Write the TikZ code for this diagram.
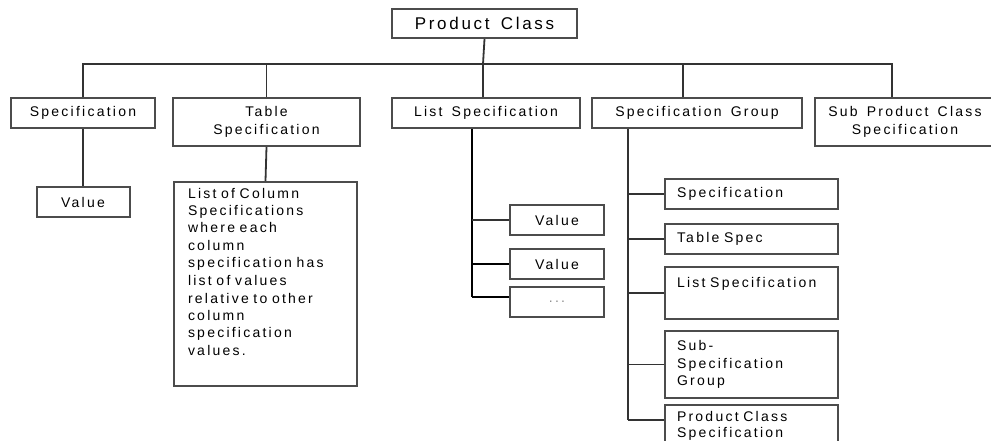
\documentclass[tikz,border=0pt]{standalone}
\usepackage{fontspec}
\setmainfont{Liberation Sans}[LetterSpace=16,WordSpace=1.5]
\usetikzlibrary{positioning}

\begin{document}
\begin{tikzpicture}[x=1pt,y=-1pt,node distance=12pt,
  every edge/.style={draw=black!80,line width=1.8pt},
  heavy/.style={draw=black,line width=2.4pt},
  elbow/.style={to path={|- (\tikztotarget)}},
  box/.style={draw=black!70,line width=2pt,inner sep=0pt,text=black,
    font=\fontsize{14}{17.5}\selectfont},
  top node/.style={box,align=center},
  leaf node/.style={box,align=left,text width=149pt,inner xsep=12pt,
    inner ysep=4pt,minimum height=30pt}]
  \useasboundingbox (0,0) rectangle (991,441);
  \clip (0,0) rectangle (991,441);
  % top level
  \node[top node,minimum width=185pt,minimum height=29pt,
    font=\fontsize{17}{20}\selectfont] (pc) at (484.5,23.5) {Product Class};
  \node[top node,minimum width=144pt,minimum height=30pt] (spec) at (83,113) {Specification};
  \node[top node,minimum width=187pt,minimum height=48pt] (tbl) at (266.5,122) {Table\\Specification};
  \node[top node,minimum width=188pt,minimum height=30pt] (lst) at (486,113) {List Specification};
  \node[top node,minimum width=210pt,minimum height=30pt] (grp) at (697,113) {Specification Group};
  \node[top node,minimum width=180pt,minimum height=48pt] (sub) at (905,122) {Sub Product Class\\Specification};
  \coordinate (bus) at (483,64);
  % children
  \node[top node,minimum width=93pt,minimum height=30pt] (val) [below=57pt of spec] {Value};
  \node[box,align=left,text width=155pt,inner xsep=14pt,inner ysep=4pt,
    text height=12pt,text depth=184pt,anchor=north west] (note) at (173,181)
    {List of Column\\Specifications\\where each\\column\\specification has\\list of values\\relative to other\\column\\specification\\values.};
  \node[top node,minimum width=94pt,minimum height=30pt] (lv1) at (557,220) {Value};
  \node[top node,minimum width=94pt,minimum height=30pt] (lv2) [below=of lv1] {Value};
  \node[top node,minimum width=94pt,minimum height=30pt,text=black!45] (lv3) [below=6pt of lv2] {...};
  \coordinate (lspine) at (472,297);
  \node[leaf node] (g1) at (751.5,194) {Specification};
  \node[leaf node] (g2) [below=13pt of g1] {Table Spec};
  \node[leaf node,text height=16pt,text depth=28pt] (g3) [below=11pt of g2] {List Specification};
  \node[leaf node,minimum height=67pt] (g4) [below=10pt of g3] {Sub-\\Specification\\Group};
  \node[leaf node,text height=12pt,text depth=38pt,
    font=\fontsize{14}{16.5}\selectfont] (g5) [below=5pt of g4] {Product Class\\Specification};
  \coordinate (gspine) at (628,420);
  % connectors
  \path (pc.south) edge (bus)
        (spec.north) edge[elbow] (bus)
        (tbl.north) edge[elbow] (bus)
        (bus) edge (bus |- lst.north)
        ([xshift=-14pt]grp.north) edge[elbow] (bus)
        ([xshift=-13pt]sub.north) edge[elbow] (bus)
        (spec.south) edge (val.north)
        (tbl.south) edge (note.north)
        ([xshift=-14pt]lst.south) edge[heavy] (lspine)
        (lspine |- lv1.west) edge (lv1.west)
        (lspine |- lv2.west) edge[heavy] (lv2.west)
        (lspine) edge[heavy] (lspine -| lv3.west)
        ([xshift=-69pt]grp.south) edge (gspine)
        (gspine |- g1.west) edge (g1.west)
        (gspine |- g2.west) edge (g2.west)
        (gspine |- g3.west) edge (g3.west)
        (gspine |- g4.west) edge (g4.west)
        (gspine) edge (gspine -| g5.west);
\end{tikzpicture}
\end{document}
